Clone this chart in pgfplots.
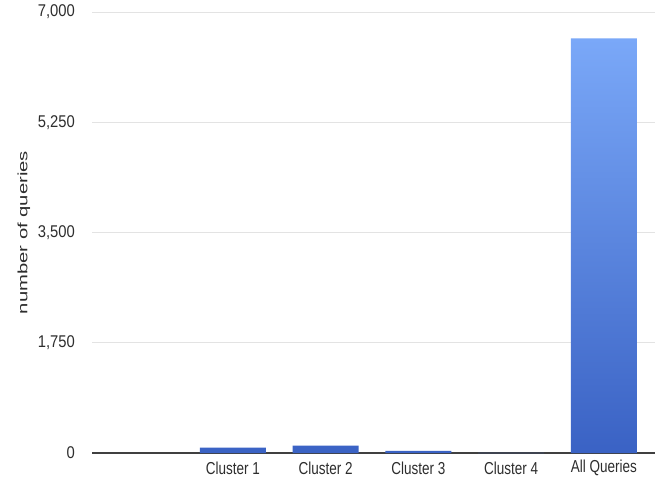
\documentclass[border=0pt]{standalone}
\usepackage{fontspec}
\setmainfont{Liberation Sans}
\newfontfamily\xfont[FakeStretch=0.78]{Liberation Sans}
\newfontfamily\yfont[FakeStretch=0.87]{Liberation Sans}
\newfontfamily\labfont[FakeStretch=1.5]{Liberation Sans}
\usepackage{pgfplots}
\pgfplotsset{compat=1.18}
\definecolor{bartop}{RGB}{122,168,248}
\definecolor{barbot}{RGB}{58,98,196}
\definecolor{txt}{RGB}{45,45,45}
\begin{document}
\begin{tikzpicture}
\begin{axis}[
  name=ax,
  scale only axis, width=563pt, height=441pt,
  xmin=-0.52, xmax=5.55, ymin=0, ymax=7000,
  axis line style={draw=none},
  major tick length=0pt,
  xtick={0,1,2,3,4,5},
  xticklabels={,Cluster 1,Cluster 2,Cluster 3,Cluster 4,All Queries},
  ytick={1750,3500,5250,7000},
  yticklabels={{1,750},{3,500},{5,250},{7,000}},
  extra y ticks={0}, extra y tick labels={0},
  extra y tick style={grid style={black!75, line width=1.3pt}},
  ymajorgrids, grid style={black!11, line width=0.7pt},
  yticklabel style={font=\yfont\fontsize{17}{19}\selectfont, text=txt, anchor=east, inner sep=0pt, xshift=-17pt},
  xticklabel style={font=\xfont\fontsize{17.3}{19}\selectfont, text=txt, anchor=center, inner sep=0pt, yshift=-15pt},
  ylabel={number of queries},
  ylabel style={font=\labfont\fontsize{13.5}{15}\selectfont, text=txt, at={(axis description cs:0,0.5)}, anchor=center, inner sep=0pt, yshift=68pt},
  clip=false,
]
\addplot[ybar, bar width=66pt, draw=none, shading=axis, top color=bartop, bottom color=barbot]
  coordinates {(1,87) (2,116) (3,35) (4,3) (5,6580)};
\end{axis}
\pgfresetboundingbox
\path ([xshift=-92pt,yshift=-30pt]ax.south west) rectangle ([xshift=4pt,yshift=12pt]ax.north east);
\end{tikzpicture}
\end{document}
